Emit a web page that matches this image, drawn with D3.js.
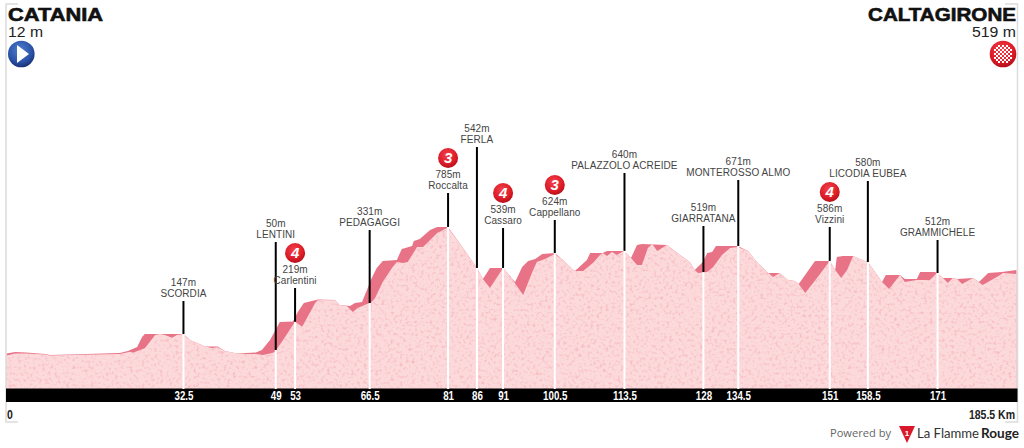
<!DOCTYPE html>
<html><head><meta charset="utf-8">
<script src="https://cdn.jsdelivr.net/npm/d3@7"></script>
<style>html,body{margin:0;padding:0;background:#fff}svg{display:block}text{font-family:"Liberation Sans",Arial,sans-serif}</style>
</head><body><div id="c"></div>
<script>
// Upper silhouette of the road (km, metres)
const topKm=[0,1.6,3.6,7.1,8,11.7,20.8,22.3,24,24.9,25.4,32.5,33.7,36.5,38.8,40.1,42.3,45.8,46.9,48.4,50.2,52.6,53.5,54.6,57.2,60.3,61.2,63.1,64,65.3,66.2,66.9,68,69.1,71.7,72.6,74.5,74.8,75.9,77.8,79.1,81.1,86.4,87.5,88.8,91.2,93.4,93.6,94.7,95.8,97.1,98.4,100.7,102.2,103.9,104.4,106.6,107.2,109.5,110.3,113.4,114.7,115.8,116.7,121.3,123.7,125.5,126.4,127.9,128.7,129.6,130.3,134.3,136.2,137.8,139.9,142,143.5,144.8,145.5,148.5,151.2,152.2,152.5,153.6,155.5,156.7,158.2,159.9,160.8,161.5,164.1,165,167.2,167.8,170.5,170.9,172,173.8,174.6,177.5,178.6,180.3,182.8,185.5];
const topElev=[15,24,21,12,6,9,18,30,55,116,134,134,98,58,58,30,15,21,37,98,207,210,268,323,345,342,311,305,323,329,403,464,537,580,586,653,671,702,714,769,787,787,537,470,537,537,451,464,543,580,592,622,628,586,531,519,586,628,628,641,641,598,677,683,677,616,573,525,573,628,634,671,671,641,573,506,506,464,458,439,580,580,525,604,610,610,592,573,494,451,494,494,470,470,512,512,506,476,476,470,476,451,506,512,525];
// Lower, textured surface (km, metres)
const surfKm=[0,1.6,3.6,7.1,8,11.7,20.8,22.7,23.2,25.4,27.3,28.2,29.1,30.4,31.3,32.5,33.7,36.5,37.7,38.8,40.1,42.3,44.2,45.8,47.1,48.8,49.3,50.8,53,54.3,56.7,57.2,60.3,61.2,62.5,63.6,64.5,66.2,66.9,67.7,69.1,70.8,71.7,72.8,73.7,75.4,76.5,77.8,79.1,81.1,86.4,87.5,88.8,91.2,92.8,93.6,94.9,96.5,97.4,98.9,100.7,102.2,104.4,105.9,107.7,109,109.5,110.3,111.2,112.1,113.4,114.7,115.8,116.7,117.8,118.6,119.5,121.3,123.7,125.5,126.4,127,128.7,129.8,131.4,132.9,134.3,136.2,137.8,139.9,140.8,142,143.5,144.8,145.5,146.7,149,151.2,152.2,153.3,154.4,155.5,156.7,158.2,159.9,160.8,162.1,164.1,165,167.2,169.6,170.9,172,172.9,173.8,174.6,175.5,177.5,179.3,182.5,183,185.5];
const surfElev=[3,15,15,9,3,6,12,26,20,47,128,134,128,112,128,134,98,58,49,53,30,15,12,12,6,18,26,98,209,179,323,342,340,311,305,268,293,317,323,354,451,537,573,567,573,665,665,708,750,784,537,470,415,537,476,433,372,506,573,592,622,586,519,519,567,616,628,610,634,616,641,598,555,555,659,683,641,677,616,573,525,506,512,543,616,659,665,641,573,506,482,506,464,458,439,384,482,580,525,476,525,610,592,573,494,451,409,494,451,464,464,506,476,445,476,470,439,476,433,494,506,500];
// Towns and climbs
const kmTicks=[32.5,49,53,66.5,81,86,91,100.5,113.5,128,134.5,151,158.5,171];
const poleKm=[32.5,49.45,53,66.7,81.1,86.4,91.2,100.7,113.5,128,134.4,151.2,158.2,171];
const towns=["SCORDIA","LENTINI","Carlentini","PEDAGAGGI","Roccalta","FERLA","Cassaro","Cappellano","PALAZZOLO ACREIDE","GIARRATANA","MONTEROSSO ALMO","Vizzini","LICODIA EUBEA","GRAMMICHELE"];
const altLabels=["147m","50m","219m","331m","785m","542m","539m","624m","640m","519m","671m","586m","580m","512m"];
const roadElev=[134,37,209,323,787,537,537,628,641,512,671,580,573,506];
const climbCat=[null,null,4,null,3,null,4,3,null,null,null,4,null,null];
const startName="CATANIA", startAlt="12 m", finishName="CALTAGIRONE", finishAlt="519 m", totalKm=185.5;

// layout (pixels), not data
const poleTop=[301,242,288,230,193,147,228,220,173,226,180,227,181,240];
const W=1024,H=448;
const x=d3.scaleLinear().domain([0,totalKm]).range([6.5,1016.5]);
const y=d3.scaleLinear().domain([-201,800]).range([389,224.8]);
const svg=d3.select("#c").append("svg").attr("width",W).attr("height",H);
const defs=svg.append("defs");

// speckled paper texture
const f=defs.append("filter").attr("id","speck").attr("x",0).attr("y",0).attr("width","100%").attr("height","100%").attr("color-interpolation-filters","sRGB");
f.append("feTurbulence").attr("type","fractalNoise").attr("baseFrequency",0.33).attr("numOctaves",2).attr("seed",7).attr("result","n");
f.append("feColorMatrix").attr("in","n").attr("type","matrix")
 .attr("values","0 0 0 0 0.96  0 0 0 0 0.70  0 0 0 0 0.74  3 0 0 0 -1.55");

const rg=(id,stops)=>{const g=defs.append("radialGradient").attr("id",id).attr("cx","45%").attr("cy","35%").attr("r","70%");
 stops.forEach(s=>g.append("stop").attr("offset",s[0]).attr("stop-color",s[1]));};
rg("red",[[0,"#f2424c"],[0.65,"#dc1c28"],[1,"#a80c16"]]);
rg("blue",[[0,"#4f7fd0"],[0.65,"#2a52a6"],[1,"#14296b"]]);

const pts=(a,b)=>a.map((k,i)=>[k,b[i]]);
const area=d3.area().x(d=>x(d[0])).y0(y(-201)).y1(d=>y(d[1]));
svg.append("path").attr("d",area(pts(topKm,topElev))).attr("fill","#e97386");
const surfD=area(pts(surfKm,surfElev));
defs.append("clipPath").attr("id","surf").append("path").attr("d",surfD);
svg.append("path").attr("d",surfD).attr("fill","#fcd9da");
svg.append("g").attr("clip-path","url(#surf)").append("rect").attr("x",0).attr("y",220).attr("width",W).attr("height",175).attr("filter","url(#speck)").attr("fill","#fff").attr("opacity",0.85);

// frame corners
svg.append("path").attr("fill","none").attr("stroke","#dcdcdc").attr("stroke-width",1.5)
 .attr("d","M18,4H6V422H18M1005,4H1017.5V422H1005");

const narrow=(sel,k)=>sel.each(function(){const n=this.getComputedTextLength();d3.select(this).attr("textLength",n*k).attr("lengthAdjust","spacingAndGlyphs");});

// bar and axis
svg.append("rect").attr("x",x(0)-0.5).attr("y",388.5).attr("width",x(totalKm)-x(0)+1.5).attr("height",13.5).attr("fill","#000");
const ax=svg.append("g").attr("transform","translate(0,389)")
 .call(d3.axisBottom(x).tickValues(poleKm).tickSize(0).tickPadding(2).tickFormat((d,i)=>kmTicks[i]));
ax.select(".domain").remove();
ax.selectAll("text").attr("fill","#fff").attr("font-size",12.5).attr("font-weight","bold").call(narrow,0.78);

// poles
const g=svg.append("g");
poleKm.forEach((k,i)=>{
 const px=x(k), by=y(roadElev[i]);
 g.append("line").attr("x1",px).attr("x2",px).attr("y1",by).attr("y2",389).attr("stroke","#fff").attr("stroke-width",2);
 g.append("line").attr("x1",px).attr("x2",px).attr("y1",poleTop[i]).attr("y2",by).attr("stroke","#000").attr("stroke-width",2);
 g.append("text").attr("x",px).attr("y",poleTop[i]-4.5).attr("text-anchor","middle").attr("font-size",10).attr("letter-spacing",0.08).attr("fill","#444").text(towns[i]);
 g.append("text").attr("x",px).attr("y",poleTop[i]-15).attr("text-anchor","middle").attr("font-size",10).attr("letter-spacing",0.08).attr("fill","#444").text(altLabels[i]);
 if(climbCat[i]){
  const cy=poleTop[i]-35;
  g.append("circle").attr("cx",px).attr("cy",cy).attr("r",10).attr("fill","url(#red)");
  g.append("text").attr("x",px).attr("y",cy+5).attr("text-anchor","middle").attr("font-size",15).attr("font-weight","bold").attr("font-style","italic").attr("fill","#fff").text(climbCat[i]);
 }
});

// header
const head=(t,xp,yp,anchor,size,len,bold)=>svg.append("text").attr("x",xp).attr("y",yp).attr("text-anchor",anchor).attr("font-size",size)
 .attr("font-weight",bold?"bold":"normal").attr("fill",bold?"#111":"#222").attr("stroke",bold?"#111":"none").attr("stroke-width",bold?0.6:0)
 .attr("textLength",len).attr("lengthAdjust","spacingAndGlyphs").text(t);
head(startName,8,21,"start",18,95,true);
head(startAlt,8,37,"start",14,35,false);
head(finishName,1016,21,"end",18,148,true);
head(finishAlt,1016,37,"end",14,44,false);

// start and finish badges
svg.append("circle").attr("cx",21.3).attr("cy",54).attr("r",13.3).attr("fill","url(#blue)");
svg.append("path").attr("d",d3.line()([[17,45],[17,63],[29,54]])+"Z").attr("fill","#fff");
svg.append("circle").attr("cx",1003).attr("cy",54).attr("r",13.3).attr("fill","url(#red)");
const chk=svg.append("g").attr("fill","#fff");
d3.range(-4,5).forEach(i=>d3.range(-4,5).forEach(j=>{
 if((i+j+8)%2===0 && Math.abs(i)+Math.abs(j)<=6)
  chk.append("rect").attr("x",1003+i*2-1).attr("y",54+j*2-1).attr("width",2).attr("height",2);
}));

// end labels
const lab=(t,xp,a)=>svg.append("text").attr("x",xp).attr("y",419).attr("text-anchor",a).attr("font-size",12.5).attr("font-weight","bold").attr("fill","#222").text(t).call(narrow,0.84);
lab("0",7,"start");
lab(totalKm+" Km",1015,"end");

// footer
svg.append("text").attr("x",830).attr("y",437).attr("font-size",11.5).attr("fill","#666").style("font-family","'Open Sans',sans-serif").attr("textLength",61).attr("lengthAdjust","spacingAndGlyphs").text("Powered by");
svg.append("path").attr("d",d3.line()([[899,426],[915,426],[907,443]])+"Z").attr("fill","#d8182a");
svg.append("text").attr("x",907).attr("y",436).attr("text-anchor","middle").attr("font-size",8).attr("font-weight","bold").attr("fill","#fff").text("1");
svg.append("text").attr("x",917).attr("y",438).attr("font-size",14).attr("fill","#333").style("font-family","Lato,sans-serif").attr("textLength",62).attr("lengthAdjust","spacingAndGlyphs").text("La Flamme");
svg.append("text").attr("x",981).attr("y",438).attr("font-size",14).attr("font-weight","bold").attr("fill","#222").style("font-family","Lato,sans-serif").attr("textLength",38).attr("lengthAdjust","spacingAndGlyphs").text("Rouge");
</script></body></html>
